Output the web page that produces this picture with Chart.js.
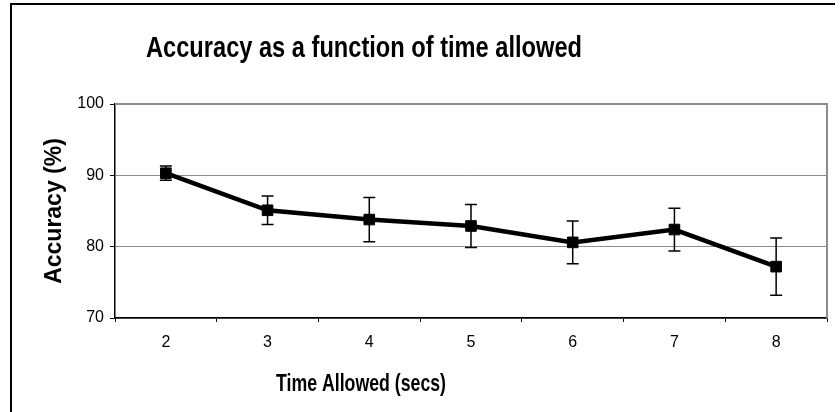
<!DOCTYPE html>
<html>
<head>
<meta charset="utf-8">
<script src="https://cdn.jsdelivr.net/npm/chart.js@4"></script>
<style>
  html, body { margin: 0; padding: 0; background: #fff; }
  #wrap { width: 840px; height: 412px; }
</style>
</head>
<body>
<div id="wrap"><canvas id="acc"></canvas></div>
<script>
'use strict';

// values
var timeLabels = ['2', '3', '4', '5', '6', '7', '8'];
var accuracy = [90.3, 85.1, 83.8, 82.9, 80.6, 82.4, 77.2];
var accuracyErr = [1.0, 2.0, 3.1, 3.0, 3.0, 3.0, 4.0];
var yTicks = [70, 80, 90, 100];

var chartTitle = 'Accuracy as a function of time allowed';
var xTitle = 'Time Allowed (secs)';
var yTitle = 'Accuracy (%)';

var FONT = '"Liberation Sans", Arial, sans-serif';
var NARROW = '"Liberation Sans Narrow", "Arial Narrow", "Liberation Sans", Arial, sans-serif';

// outer frame, grey plot border and the squeezed titles
var framePlugin = {
    id: 'frame',
    beforeDraw: function(chart){
        var ctx = chart.ctx;
        ctx.save();
        ctx.fillStyle = '#fff';
        ctx.fillRect(0, 0, chart.width, chart.height);
        ctx.strokeStyle = '#000';
        ctx.lineWidth = 2;
        ctx.beginPath();
        ctx.moveTo(11, chart.height);
        ctx.lineTo(11, 4);
        ctx.lineTo(835, 4);
        ctx.stroke();
        ctx.restore();
    },
    afterDraw: function(chart){
        var a = chart.chartArea, ctx = chart.ctx;
        ctx.save();
        ctx.strokeStyle = '#8c8c8c';
        ctx.lineWidth = 2;
        ctx.beginPath();
        ctx.moveTo(a.left, a.top);
        ctx.lineTo(a.right, a.top);
        ctx.lineTo(a.right, a.bottom);
        ctx.stroke();

        ctx.fillStyle = '#000';
        ctx.textAlign = 'center';
        ctx.textBaseline = 'alphabetic';
        ctx.font = 'bold 29px ' + FONT;
        ctx.fillText(chartTitle, 364, 57, 436);
        ctx.font = 'bold 24px ' + FONT;
        ctx.fillText(xTitle, 361, 391, 170);
        ctx.restore();
    }
};

// error bars, drawn under the markers
var errorBarPlugin = {
    id: 'errorBars',
    beforeDatasetsDraw: function(chart){
        var ctx = chart.ctx;
        var y = chart.scales.y;
        var meta = chart.getDatasetMeta(0);
        ctx.save();
        ctx.strokeStyle = '#000';
        ctx.lineWidth = 1.5;
        meta.data.forEach(function(pt, i){
            var v = accuracy[i], e = accuracyErr[i];
            var top = y.getPixelForValue(v + e);
            var bot = y.getPixelForValue(v - e);
            ctx.beginPath();
            ctx.moveTo(pt.x, top);
            ctx.lineTo(pt.x, bot);
            ctx.moveTo(pt.x - 6, top);
            ctx.lineTo(pt.x + 6, top);
            ctx.moveTo(pt.x - 6, bot);
            ctx.lineTo(pt.x + 6, bot);
            ctx.stroke();
        });
        ctx.restore();
    }
};

var ctx = document.getElementById('acc').getContext('2d');
window.accChart = new Chart(ctx, {
    type: 'line',
    data: {
        labels: timeLabels,
        datasets: [{
            label: 'Accuracy',
            data: accuracy,
            borderColor: '#000',
            backgroundColor: '#000',
            borderWidth: 4.5,
            pointStyle: 'rect',
            pointRadius: 7.5,
            pointBorderWidth: 1,
            tension: 0
        }]
    },
    options: {
        responsive: true,
        maintainAspectRatio: false,
        animation: false,
        layout: { padding: { left: 14, right: 13, top: 104, bottom: 0 } },
        plugins: {
            legend: { display: false },
            tooltip: { enabled: false },
            title: { display: false }
        },
        scales: {
            x: {
                type: 'category',
                offset: true,
                grid: {
                    offset: true,
                    drawOnChartArea: false,
                    drawTicks: true,
                    tickLength: 4,
                    tickColor: '#000'
                },
                border: { color: '#000', width: 1.5 },
                ticks: {
                    color: '#000',
                    font: { family: NARROW, size: 16 },
                    padding: 11,
                    maxRotation: 0
                },
                afterFit: function(s){ s.height = 94; }
            },
            y: {
                min: 70,
                max: 100,
                afterBuildTicks: function(s){
                    s.ticks = yTicks.map(function(v){ return { value: v }; });
                },
                grid: {
                    color: '#8c8c8c',
                    tickColor: '#000',
                    tickLength: 5,
                    lineWidth: 1
                },
                border: { color: '#000', width: 1.5 },
                ticks: {
                    color: '#000',
                    font: { family: NARROW, size: 16 },
                    padding: 6
                },
                title: {
                    display: true,
                    text: yTitle,
                    color: '#000',
                    font: { family: FONT, size: 23, weight: 'bold' },
                    padding: { top: 27, bottom: 0 }
                },
                afterFit: function(s){ s.width = 101; }
            }
        }
    },
    plugins: [framePlugin, errorBarPlugin]
});
</script>
</body>
</html>
